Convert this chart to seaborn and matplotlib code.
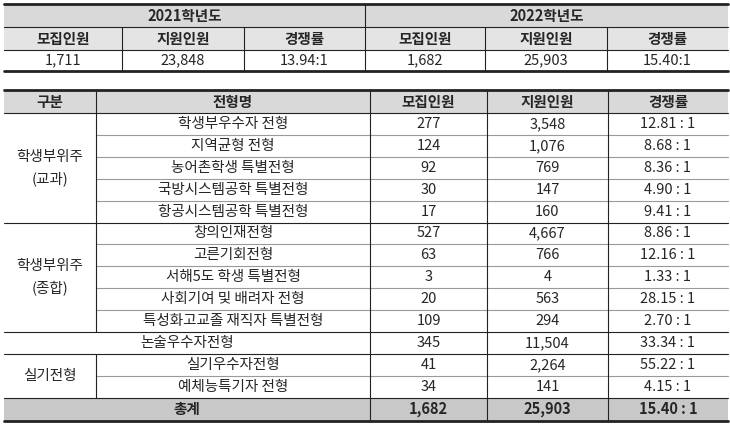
import matplotlib.pyplot as plt
import seaborn as sns

sns.set_style("white")
plt.rcParams['font.family'] = ['Noto Sans CJK KR', 'DejaVu Sans']

# 2021/2022 summary
years = ["2021학년도", "2022학년도"]
sum_heads = ["모집인원", "지원인원", "경쟁률"]
sum_2021 = ["1,711", "23,848", "13.94:1"]
sum_2022 = ["1,682", "25,903", "15.40:1"]

# detail table
heads = ["구분", "전형명", "모집인원", "지원인원", "경쟁률"]
groups = [("학생부위주\n(교과)", 0, 5), ("학생부위주\n(종합)", 5, 10), ("실기전형", 11, 13)]
names = ["학생부우수자 전형", "지역균형 전형", "농어촌학생 특별전형", "국방시스템공학 특별전형",
         "항공시스템공학 특별전형", "창의인재전형", "고른기회전형", "서해5도 학생 특별전형",
         "사회기여 및 배려자 전형", "특성화고교졸 재직자 특별전형", "논술우수자전형",
         "실기우수자전형", "예체능특기자 전형"]
quota = ["277", "124", "92", "30", "17", "527", "63", "3", "20", "109", "345", "41", "34"]
applied = ["3,548", "1,076", "769", "147", "160", "4,667", "766", "4", "563", "294",
           "11,504", "2,264", "141"]
ratio = ["12.81 : 1", "8.68 : 1", "8.36 : 1", "4.90 : 1", "9.41 : 1", "8.86 : 1",
         "12.16 : 1", "1.33 : 1", "28.15 : 1", "2.70 : 1", "33.34 : 1", "55.22 : 1", "4.15 : 1"]
total = ["총계", "1,682", "25,903", "15.40 : 1"]

fig = plt.figure(figsize=(7.3, 4.28), dpi=100)
ax = fig.add_axes([0, 0, 1, 1])
ax.set_xlim(0, 730)
ax.set_ylim(428, 0)
ax.axis("off")

DARK = "#222222"
GRID = "#9a9a9a"
HEAD = "#d9d9d9"
FS = 10.5

def cell(x0, x1, y0, y1, txt, bg=None, bold=False):
    if bg:
        ax.fill_between([x0, x1], y0, y1, color=bg, lw=0)
    ax.text((x0 + x1) / 2, (y0 + y1) / 2, txt, ha="center", va="center",
            fontsize=FS, weight="bold" if bold else "normal", linespacing=1.6)

# ---- top table
tx = [4, 122, 244, 365, 485, 607, 728]
ty = [4, 27, 50, 71]
for k, yr in enumerate(years):
    cell(tx[3 * k], tx[3 * k + 3], ty[0], ty[1], yr, HEAD, True)
    vals = sum_2021 if k == 0 else sum_2022
    for j in range(3):
        cell(tx[3 * k + j], tx[3 * k + j + 1], ty[1], ty[2], sum_heads[j], "#e4e4e4", True)
        cell(tx[3 * k + j], tx[3 * k + j + 1], ty[2], ty[3], vals[j])
for y in ty[1:3]:
    ax.plot([tx[0], tx[-1]], [y, y], color=DARK, lw=0.8)
ax.plot([tx[0], tx[-1]], [ty[0], ty[0]], color=DARK, lw=2)
ax.plot([tx[0], tx[-1]], [ty[-1], ty[-1]], color=DARK, lw=2)
ax.plot([365, 365], [ty[0], ty[-1]], color=DARK, lw=0.8)
for x in tx[1:-1]:
    if x != 365:
        ax.plot([x, x], [ty[1], ty[-1]], color=DARK, lw=0.8)

# ---- detail table
bx = [4, 96, 370, 487, 608, 728]
top, rh = 90, 23
n = len(names)
ry = [top + rh + i * 21.9 for i in range(n + 1)]
bottom = ry[-1] + 23

for j, h in enumerate(heads):
    cell(bx[j], bx[j + 1], top, top + rh, h, HEAD, True)
for i in range(n):
    x0 = bx[0] if i == 10 else bx[1]
    cell(x0, bx[2], ry[i], ry[i + 1], names[i])
    cell(bx[2], bx[3], ry[i], ry[i + 1], quota[i])
    cell(bx[3], bx[4], ry[i], ry[i + 1], applied[i])
    cell(bx[4], bx[5], ry[i], ry[i + 1], ratio[i])
for g, a, b in groups:
    cell(bx[0], bx[1], ry[a], ry[b], g)
cell(bx[0], bx[2], ry[-1], bottom, total[0], "#c8c8c8", True)
for j in range(3):
    cell(bx[j + 2], bx[j + 3], ry[-1], bottom, total[j + 1], "#c8c8c8", True)

# horizontal lines
group_edges = {0, 5, 10, 11, 13}
for i in range(n + 1):
    if i in group_edges:
        ax.plot([bx[0], bx[-1]], [ry[i], ry[i]], color=DARK, lw=0.8)
    else:
        ax.plot([bx[1], bx[-1]], [ry[i], ry[i]], color=GRID, lw=0.8)
ax.plot([bx[0], bx[-1]], [top, top], color=DARK, lw=2)
ax.plot([bx[0], bx[-1]], [bottom, bottom], color=DARK, lw=2)
# vertical lines
for x in bx[2:-1]:
    ax.plot([x, x], [top, bottom], color=DARK, lw=0.8)
ax.plot([bx[1], bx[1]], [top, ry[10]], color=DARK, lw=0.8)
ax.plot([bx[1], bx[1]], [ry[11], ry[-1]], color=DARK, lw=0.8)

fig.savefig("out.png", dpi=100, facecolor="white")
